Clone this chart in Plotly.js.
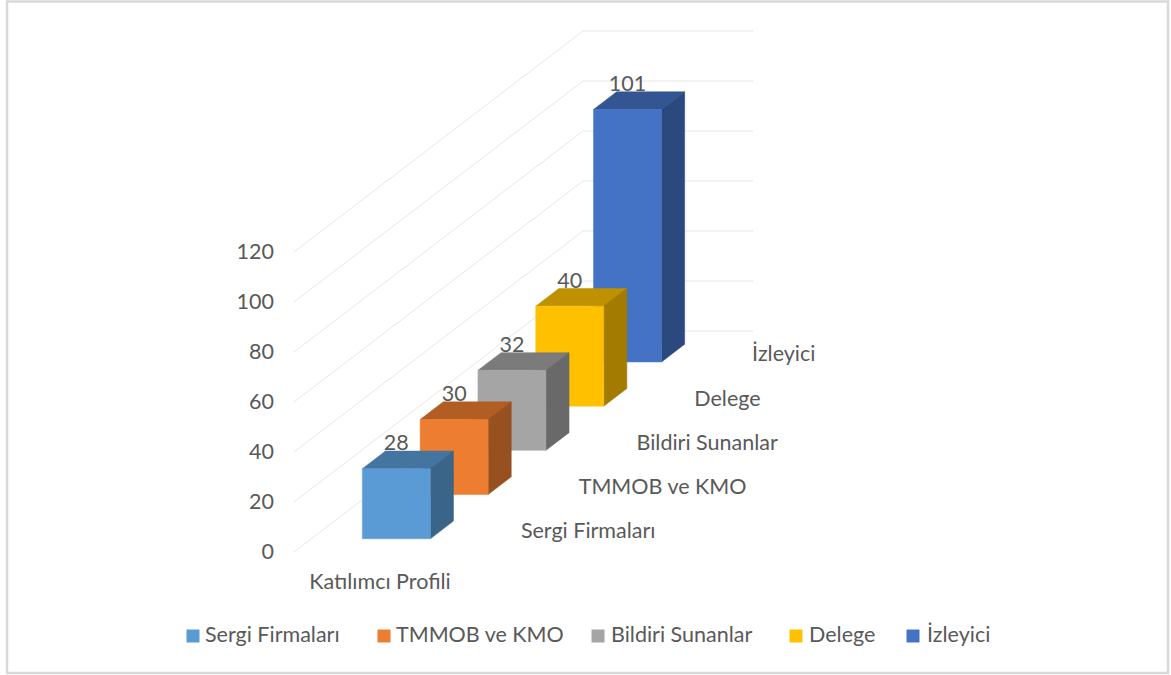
<!DOCTYPE html>
<html>
<head>
<meta charset="utf-8">
<script src="https://cdn.plot.ly/plotly-3.0.1.min.js"></script>
<style>html,body{margin:0;padding:0;background:#fff}#chart{width:1171px;height:675px}</style>
</head>
<body>
<div id="chart"></div>
<script>
const category = "Katılımcı Profili";
const seriesNames = ["Sergi Firmaları", "TMMOB ve KMO", "Bildiri Sunanlar", "Delege", "İzleyici"];
const seriesValues = [28, 30, 32, 40, 101];
const valueTicks = [0, 20, 40, 60, 80, 100, 120];
const frontColors = ["#5B9BD5", "#ED7D31", "#A5A5A5", "#FFC000", "#4472C4"];
const topColors = ["#4474A0", "#B15D24", "#7B7B7B", "#BF9000", "#335592"];
const sideColors = ["#3A6488", "#975020", "#696969", "#A37B00", "#2B497E"];

// Legend layout on the page
const legendSwatchX = [193, 384, 598, 796, 913];
const legendTextX = [205, 396, 611, 809, 927];
const legendY = 636;

// Oblique projection of the chart's 3D space onto the page
const origin = {x: 294, y: 552};
const widthPx = 170, depthDx = 57.8, depthDy = 44.2, unitPx = 2.5;
const px = (across, depth) => origin.x + widthPx * across + depthDx * depth;
const py = (depth, value) => origin.y - depthDy * depth - unitPx * value;
const barStart = 0.3, barEnd = 0.7, rowStart = 0.3, rowEnd = 0.7;
const nRows = seriesNames.length;

const FONT = "Lato, Carlito, sans-serif";
const SIZE = 21.5;
const TEXT = "#595959";
const traces = [];

function poly(points, color) {
  traces.push({
    type: "scatter", mode: "lines", fill: "toself", fillcolor: color,
    x: points.map(p => p[0]), y: points.map(p => p[1]),
    line: {color: color, width: 0.5}, showlegend: false, hoverinfo: "skip"
  });
}

// Gridlines: along the side wall and then across the back wall
valueTicks.forEach(v => {
  traces.push({
    type: "scatter", mode: "lines",
    x: [px(0, 0), px(0, nRows), px(1, nRows)],
    y: [py(0, v), py(nRows, v), py(nRows, v)],
    line: {color: "#E7E7E7", width: 1}, showlegend: false, hoverinfo: "skip"
  });
});

// Bars from back to front
for (let i = nRows - 1; i >= 0; i--) {
  const v = seriesValues[i];
  const d0 = i + rowStart, d1 = i + rowEnd;
  const xa = barStart, xb = barEnd;
  poly([[px(xa,d0),py(d0,v)],[px(xb,d0),py(d0,v)],[px(xb,d1),py(d1,v)],[px(xa,d1),py(d1,v)],[px(xa,d0),py(d0,v)]], topColors[i]);
  poly([[px(xb,d0),py(d0,0)],[px(xb,d1),py(d1,0)],[px(xb,d1),py(d1,v)],[px(xb,d0),py(d0,v)],[px(xb,d0),py(d0,0)]], sideColors[i]);
  poly([[px(xa,d0),py(d0,0)],[px(xb,d0),py(d0,0)],[px(xb,d0),py(d0,v)],[px(xa,d0),py(d0,v)],[px(xa,d0),py(d0,0)]], frontColors[i]);
}

function labels(xs, ys, text, position) {
  traces.push({
    type: "scatter", mode: "text", x: xs, y: ys, text: text, textposition: position,
    textfont: {family: FONT, size: SIZE, color: TEXT}, showlegend: false, hoverinfo: "skip"
  });
}

// Legend: square swatches and their names
seriesNames.forEach((name, i) => {
  traces.push({
    type: "scatter", mode: "markers", name: name, x: [legendSwatchX[i]], y: [legendY],
    marker: {symbol: "square", size: 13, color: frontColors[i]}, showlegend: false, hoverinfo: "skip"
  });
});
labels(legendTextX, seriesNames.map(() => legendY + 1), seriesNames, "middle right");

// Value axis labels
labels(valueTicks.map(() => px(0, 0) - 20), valueTicks.map(v => py(0, v) + 2), valueTicks.map(String), "middle left");
// Series axis labels
labels(seriesNames.map((_, i) => px(1, i + 0.5) + 28), seriesNames.map((_, i) => py(i + 0.5, 0) + 3), seriesNames, "middle right");
// Category axis label
labels([px(0.5, 0) + 1], [py(0, 0) + 32], [category], "middle center");
// Data labels
labels(seriesNames.map((_, i) => px(0.5, i + rowStart)), seriesValues.map((v, i) => py(i + rowEnd, v) - 6), seriesValues.map(String), "middle center");

const layout = {
  width: 1171, height: 675,
  margin: {l: 0, r: 0, t: 0, b: 0},
  paper_bgcolor: "#FFFFFF", plot_bgcolor: "#FFFFFF",
  font: {family: FONT, size: SIZE, color: TEXT},
  showlegend: false,
  xaxis: {range: [0, 1171], visible: false, fixedrange: true},
  yaxis: {range: [675, 0], visible: false, fixedrange: true},
  shapes: [{
    type: "rect", xref: "paper", yref: "paper",
    x0: 7 / 1171, x1: 1168 / 1171, y0: 1 - 673 / 675, y1: 1 - 1.5 / 675,
    line: {color: "#D9D9D9", width: 2.5}, fillcolor: "rgba(0,0,0,0)"
  }]
};

Plotly.newPlot("chart", traces, layout, {displayModeBar: false, staticPlot: true});
</script>
</body>
</html>
